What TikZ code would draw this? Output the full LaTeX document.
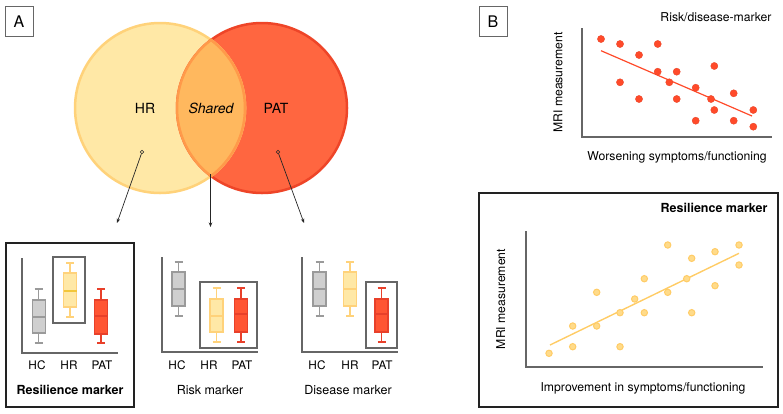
\documentclass[tikz,border=0pt]{standalone}
\usepackage{fontspec}
\setmainfont{TeX Gyre Heros}
\usetikzlibrary{arrows.meta}
\definecolor{hrfill}{HTML}{FFE8A6}
\definecolor{hrdraw}{HTML}{FFD27A}
\definecolor{patfill}{HTML}{FF6640}
\definecolor{patdraw}{HTML}{EE4528}
\definecolor{shfill}{HTML}{FFB85E}
\definecolor{shdraw}{HTML}{FF9A4A}
\definecolor{hcfill}{HTML}{CFCFCF}
\definecolor{hcdraw}{HTML}{9A9A9A}
\definecolor{hrmed}{HTML}{F2C63A}
\definecolor{bxred}{HTML}{FF5533}
\definecolor{bxreddraw}{HTML}{E8402A}
\definecolor{ydot}{HTML}{FFDB8A}
\definecolor{ydotd}{HTML}{FFCC66}
\definecolor{rdot}{HTML}{FF4A2A}
\definecolor{frame}{HTML}{222222}
\definecolor{hl}{HTML}{666666}
\newcommand\bplot[9]{%
 \draw[#8,line width=1.2pt] (#1,#2) -- (#1,#3) (#1,#5) -- (#1,#6) (#1-4,#2) -- (#1+4,#2) (#1-4,#6) -- (#1+4,#6);
 \draw[#8,fill=#7,line width=1.2pt] (#1-6.5,#3) rectangle (#1+6.5,#5);
 \draw[#9,line width=1.2pt] (#1-6.5,#4) -- (#1+6.5,#4);
}
\begin{document}
\begin{tikzpicture}[x=1pt,y=-1pt,
  venn/.style={font=\fontsize{14}{16}\selectfont,anchor=base},
  grp/.style={font=\fontsize{11.8}{13}\selectfont,anchor=base},
  capl/.style={font=\fontsize{12.5}{14}\selectfont,anchor=base},
  capb/.style={font=\fontsize{12.5}{14}\selectfont\bfseries,anchor=base},
  axl/.style={font=\fontsize{12.2}{14}\selectfont,anchor=base},
  tagt/.style={font=\fontsize{16}{18}\selectfont,anchor=base},
  panel/.style={draw=frame,line width=1.4pt},
  tag/.style={draw=hl,line width=0.9pt},
  hlbox/.style={draw=hl,line width=1.1pt},
  axis/.style={draw=hl,line width=1.2pt},
  conn/.style={draw=black!85,line width=0.7pt,-{Stealth[length=4.5pt,width=3.5pt]}},
  rd/.style={fill=rdot,draw=rdot!90!black,line width=0.3pt},
  yd/.style={fill=ydot,draw=ydotd,line width=1pt}
]
\useasboundingbox (0,0) rectangle (783,413);
% ---------- Panel A ----------
\draw[tag] (5,6) rectangle (33,36);
\node[tagt] (tagA) at (19,27.5) {A};
% Venn
\fill[hrfill] (160,108) circle[radius=85pt];
\fill[patfill] (262,108) circle[radius=85pt];
\draw[hrdraw,line width=2.5pt] (160,108) circle[radius=85pt];
\draw[patdraw,line width=2.5pt] (262,108) circle[radius=85pt];
\begin{scope}
 \clip (160,108) circle[radius=86.3pt];
 \fill[shfill] (262,108) circle[radius=85pt];
 \draw[shdraw,line width=2.5pt] (262,108) circle[radius=85pt];
\end{scope}
\begin{scope}
 \clip (262,108) circle[radius=86.3pt];
 \draw[shdraw,line width=2.5pt] (160,108) circle[radius=85pt];
\end{scope}
\node[venn] (vHR) at (145,113.3) {HR};
\node[venn] (vSh) at (211,113.3) {\itshape Shared};
\node[venn] (vPAT) at (276,113.3) {PAT};
\coordinate (dHR) at (142,152);
\coordinate (dSh) at (210.5,174);
\coordinate (dPAT) at (278,152);
\coordinate (tR) at (117,223);
\coordinate (tK) at (210.5,227);
\coordinate (tD) at (304,223);
\draw[conn,shorten <=1.6pt] (dHR) -- (tR);
\draw[conn] (dSh) -- (tK);
\draw[conn,shorten <=1.6pt] (dPAT) -- (tD);
\draw[black!85,fill=hrfill,line width=0.6pt] (dHR) circle[radius=1.7pt];
\draw[black!85,fill=patfill,line width=0.6pt] (dPAT) circle[radius=1.7pt];
% Resilience panel
\draw[panel] (6,243) rectangle (134,407);
\draw[axis] (22,258) -- (22,353) -- (118,353);
\draw[hlbox] (53,257) rectangle (85,323);
\bplot{38.7}{289}{300}{317}{333}{343}{hcfill}{hcdraw}{hcdraw}
\bplot{70}{263}{273}{291}{307}{317}{hrfill}{hrdraw}{hrmed}
\bplot{101}{289}{300}{316}{334}{343}{bxred}{bxreddraw}{bxreddraw}
\node[grp] (a1) at (37,369) {HC};
\node[grp] (a2) at (69,369) {HR};
\node[grp] (a3) at (102,369) {PAT};
\node[capb] (cR) at (70,394) {Resilience marker};
% Risk panel
\draw[axis] (162,257) -- (162,352) -- (258,352);
\draw[hlbox] (200,282) rectangle (257,348);
\bplot{178.5}{262}{272}{289}{306}{316}{hcfill}{hcdraw}{hcdraw}
\bplot{216.5}{288}{299}{316}{332}{342}{hrfill}{hrdraw}{hrdraw}
\bplot{241}{288}{299}{314}{332}{342}{bxred}{bxreddraw}{bxreddraw}
\node[grp] (b1) at (177,369) {HC};
\node[grp] (b2) at (209,369) {HR};
\node[grp] (b3) at (242,369) {PAT};
\node[capl] (cK) at (210,394) {Risk marker};
% Disease panel
\draw[axis] (302,257) -- (302,352) -- (398,352);
\draw[hlbox] (366,282) rectangle (397,348);
\bplot{319.5}{262}{272}{289}{306}{316}{hcfill}{hcdraw}{hcdraw}
\bplot{350}{262}{272}{289}{306}{316}{hrfill}{hrdraw}{hrdraw}
\bplot{381.5}{288}{299}{314}{332}{342}{bxred}{bxreddraw}{bxreddraw}
\node[grp] (c1) at (317,369) {HC};
\node[grp] (c2) at (350,369) {HR};
\node[grp] (c3) at (382,369) {PAT};
\node[capl] (cD) at (348,394) {Disease marker};
% ---------- Panel B ----------
\draw[tag] (479,6) rectangle (507,36);
\node[tagt] (tagB) at (493,27.5) {B};
\node[axl,anchor=base east] (tRD) at (775,21.7) {Risk/disease-marker};
\draw[axis] (582,28) -- (582,137) -- (772,137);
\node[axl,rotate=90] (yl1) at (562.3,82.5) {MRI measurement};
\node[axl] (xl1) at (677,160.7) {Worsening symptoms/functioning};
\draw[draw=rdot,line width=1.2pt] (601,50.7) -- (752,116);
\foreach \p in {(601,39),(620,44),(657.7,44),(639,55),(657.7,71.7),(676.7,71.7),(714.3,66),(620,82.3),(669.3,82.3),(695.7,87.7),(639,99),(676.7,99),(711,99),(733.7,93.3),(714.3,110),(753.3,110),(695.7,120.7),(733.7,120.7),(753.3,126.7)}
  \fill[rd] \p circle[radius=3.6pt];
\draw[panel] (479,193) rectangle (778,407);
\node[capb,anchor=base east] (tRes) at (771,212.7) {Resilience marker};
\draw[axis] (526,231) -- (526,367) -- (763,367);
\node[axl,rotate=90] (yl2) at (505,299) {MRI measurement};
\node[axl] (xl2) at (643,391.7) {Improvement in symptoms/functioning};
\draw[draw=ydotd,line width=1.4pt] (550,345) -- (739,253.3);
\foreach \p in {(549,353.3),(572.7,346.7),(572.7,326),(596.7,326),(596.7,292.3),(620,312.7),(620,346.7),(634.7,299),(644.3,312.7),(644.3,278.7),(667.7,292.3),(667.7,245),(686.7,278.7),(691.7,258.3),(691.7,312.7),(715,251.7),(715,285.7),(739,245),(739,265)}
  \draw[yd] \p circle[radius=3.2pt];
\end{tikzpicture}
\end{document}
